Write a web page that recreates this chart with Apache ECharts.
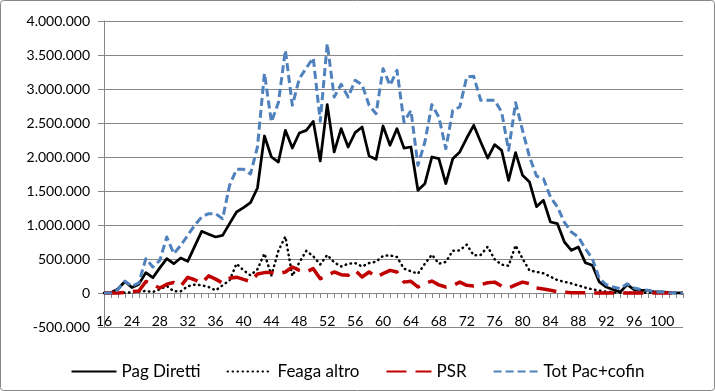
<!DOCTYPE html>
<html>
<head>
<meta charset="utf-8">
<script src="https://cdn.jsdelivr.net/npm/echarts@6/dist/echarts.min.js"></script>
<style>
html,body{margin:0;padding:0;background:#fff;}
#c{width:715px;height:391px;}
</style>
</head>
<body>
<div id="c"></div>
<script>
const categories = ['16','21','22','23','24','25','26','27','28','29','30','31','32','33','34','35','36','37','38','39','40','41','42','43','44','45','46','47','48','49','50','51','52','53','54','55','56','57','58','59','60','61','62','63','64','65','66','67','68','69','70','71','72','73','74','75','76','77','78','79','80','81','82','83','84','85','86','87','88','89','90','91','92','93','94','95','96','97','98','99','100','101','102','103'];

const pagDiretti = [0,5000,60000,170000,80000,130000,300000,225000,370000,505000,
431000,515000,466000,686000,907000,863000,824000,848000,1020000,1191000,
1255000,1328000,1544000,2309000,2000000,1926000,2392000,2132000,2353000,2392000,
2524000,1941000,2770000,2074000,2417000,2147000,2358000,2441000,2015000,1966000,
2456000,2172000,2417000,2132000,2147000,1510000,1608000,2000000,1975000,1608000,
1975000,2074000,2279000,2466000,2221000,1985000,2181000,2098000,1657000,2064000,
1730000,1632000,1270000,1363000,1044000,1020000,750000,627000,676000,446000,
407000,162000,88000,49000,15000,123000,49000,39000,39000,15000,
15000,5000,3000,0];

const feagaAltro = [0,0,0,5000,10000,20000,30000,15000,54000,103000,
25000,25000,98000,123000,113000,88000,39000,113000,186000,431000,
333000,260000,350000,580000,260000,620000,830000,250000,450000,620000,
540000,420000,560000,450000,390000,430000,440000,390000,440000,460000,
545000,554000,529000,358000,319000,284000,431000,564000,431000,456000,
622000,627000,711000,554000,560000,680000,495000,417000,400000,700000,
505000,330000,310000,290000,240000,190000,165000,140000,110000,80000,
55000,35000,20000,10000,5000,5000,3000,3000,2000,2000,
1000,1000,0,0];

const psr = [0,0,0,10000,20000,30000,170000,121000,73000,130000,
155000,100000,230000,195000,146000,252000,204000,146000,218000,233000,
200000,170000,280000,300000,300000,284000,309000,382000,333000,309000,
358000,211000,260000,309000,270000,260000,333000,235000,309000,235000,
284000,333000,309000,160000,172000,88000,137000,176000,120000,88000,
110000,160000,113000,103000,123000,150000,160000,103000,73000,120000,
160000,137000,73000,59000,40000,20000,10000,5000,5000,3000,
2000,1000,1000,0,0,0,0,0,0,0,
0,0,0,0];

const totPac = [0,0,50000,175000,100000,150000,505000,382000,480000,824000,
578000,700000,848000,995000,1118000,1167000,1167000,1093000,1583000,1819000,
1819000,1750000,2150000,3230000,2515000,2800000,3569000,2760000,3152000,3309000,
3456000,2525000,3667000,2882000,3069000,2882000,3127000,3064000,2760000,2637000,
3299000,3054000,3275000,2515000,2686000,1877000,2221000,2770000,2588000,2123000,
2686000,2735000,3176000,3186000,2833000,2833000,2833000,2662000,2098000,2799000,
2392000,2000000,1720000,1681000,1412000,1265000,1040000,897000,824000,652000,
505000,211000,123000,88000,64000,137000,74000,49000,39000,15000,
15000,5000,0,0];

const seriesNames = ['Pag Diretti','Feaga altro','PSR','Tot Pac+cofin'];

function fmt(v){
  const s = Math.abs(v).toString().replace(/\B(?=(\d{3})+(?!\d))/g,'.');
  return (v<0?'-':'') + s;
}

const FONT = 'Lato, "Open Sans", sans-serif';
const chart = echarts.init(document.getElementById('c'), null, {renderer:'canvas'});
chart.setOption({
  animation:false,
  textStyle:{fontFamily:FONT},
  graphic:[{type:'rect', shape:{x:0.5,y:0.5,width:714,height:390,r:3}, style:{fill:'none',stroke:'#878787',lineWidth:1}, silent:true, z:-1}],
  grid:{left:104,right:32,top:21,bottom:64},
  xAxis:{
    type:'category', data:categories, boundaryGap:false, position:'bottom', offset:-34,
    axisLine:{onZero:false, lineStyle:{color:'#868686',width:1}},
    axisTick:{show:true, interval:0, length:5, lineStyle:{color:'#868686'}},
    axisLabel:{interval:3, margin:21, color:'#000', fontSize:14, fontFamily:FONT},
    splitLine:{show:false}
  },
  yAxis:{
    type:'value', min:-500000, max:4000000, interval:500000,
    axisLine:{show:true, lineStyle:{color:'#868686',width:1}},
    axisTick:{show:true, length:6, lineStyle:{color:'#868686'}},
    axisLabel:{formatter:fmt, margin:14, color:'#000', fontSize:14, fontFamily:FONT},
    splitLine:{lineStyle:{color:'#868686',width:1}}
  },
  legend:{
    data:seriesNames, top:358, left:'center', itemWidth:45, itemHeight:14, itemGap:26,
    itemStyle:{opacity:0},
    textStyle:{fontSize:17, color:'#000', fontFamily:FONT}
  },
  series:[
    {name:seriesNames[0], type:'line', data:pagDiretti, symbol:'none', z:2,
     lineStyle:{color:'#000', width:2.75, join:'round'}, itemStyle:{color:'#000'}},
    {name:seriesNames[1], type:'line', data:feagaAltro, symbol:'none', z:3,
     lineStyle:{color:'#000', width:2.5, type:[0.5,4.5], cap:'round', join:'round'}, itemStyle:{color:'#000'}},
    {name:seriesNames[2], type:'line', data:psr, symbol:'none', z:4,
     lineStyle:{color:'#C00000', width:3.5, type:[20,9], join:'round'}, itemStyle:{color:'#C00000'}},
    {name:seriesNames[3], type:'line', data:totPac, symbol:'none', z:5,
     lineStyle:{color:'#4F81BD', width:3, type:[8,4], join:'round'}, itemStyle:{color:'#4F81BD'}}
  ]
});
</script>
</body>
</html>
